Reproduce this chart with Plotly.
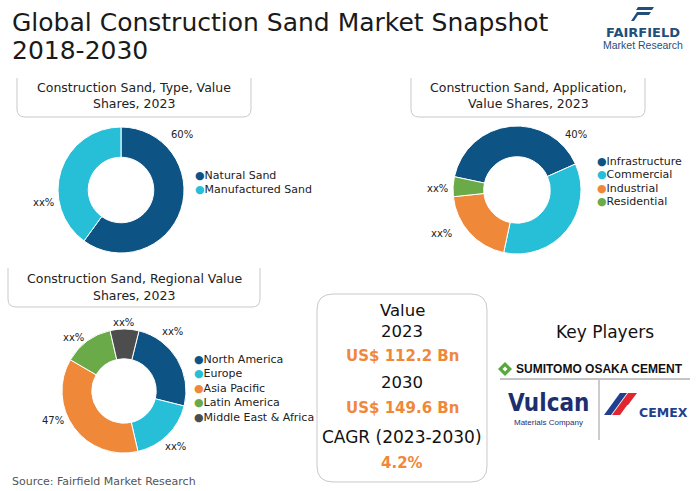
import plotly.graph_objects as go

W, H = 700, 491

# ---------------- data ----------------
type_labels = ["Natural Sand", "Manufactured Sand"]
type_values = [60, 40]
type_text = ["60%", "xx%"]

app_labels = ["Infrastructure", "Commercial", "Industrial", "Residential"]
app_values = [40, 35, 20, 5]
app_text = ["40%", "xx%", "xx%"]

reg_labels = ["North America", "Europe", "Asia Pacific", "Latin America", "Middle East & Africa"]
reg_values = [25, 17.5, 37, 13, 7.5]
reg_text = ["xx%", "xx%", "xx%", "xx%", "47%"]

value_lines = ["Value", "2023", "US$ 112.2 Bn", "2030", "US$ 149.6 Bn", "CAGR (2023-2030)", "4.2%"]

DARK = "#0d5484"
CYAN = "#27bfd8"
ORANGE = "#f0883a"
GREEN = "#6aaa48"
GRAY = "#4d4d4d"
BOX = "#c9c9c9"
FONT = "DejaVu Sans"

type_colors = [DARK, CYAN]
app_colors = [DARK, CYAN, ORANGE, GREEN]
reg_colors = [DARK, CYAN, ORANGE, GREEN, GRAY]


def px(x):
    return x / W


def py(y):
    return 1 - y / H


def dom(cx, cy, r):
    return dict(x=[px(cx - r), px(cx + r)], y=[py(cy + r), py(cy - r)])


fig = go.Figure()


def add_pie(labels, values, colors, rotation, cx, cy, r):
    fig.add_trace(go.Pie(
        labels=labels, values=values, hole=0.52, sort=False,
        direction="clockwise", rotation=rotation,
        marker=dict(colors=colors, line=dict(color="white", width=1)),
        textinfo="none", hoverinfo="label+percent", showlegend=False,
        domain=dom(cx, cy, r),
    ))


add_pie(type_labels, type_values, type_colors, 0, 121, 190, 63)
add_pie(app_labels, app_values, app_colors, -78, 517, 190, 64)
add_pie(reg_labels, reg_values, reg_colors, 14, 124, 391, 62)

ann = []


def text(x, y, s, size=11, color="#222", bold=False, xanchor="center", family=FONT):
    if bold:
        s = "<b>" + s + "</b>"
    ann.append(dict(x=px(x), y=py(y), xref="paper", yref="paper", text=s, showarrow=False,
                    xanchor=xanchor, yanchor="middle",
                    font=dict(size=size, color=color, family=family)))


# Titles
text(10, 22, "Global Construction Sand Market Snapshot", size=25, color="#1a1a1a", xanchor="left")
text(10, 51, "2018-2030", size=25, color="#1a1a1a", xanchor="left")

# Fairfield logo text
text(643, 33, "FAIRFIELD", size=13, color="#1f4f7a", bold=True, family="DejaVu Sans")
text(643, 45, "Market Research", size=10.5, color="#1f4f7a", family="Liberation Sans")

# box titles
text(134, 88, "Construction Sand, Type, Value", size=12.5)
text(134, 103, "Shares, 2023", size=12.5)
text(528, 88, "Construction Sand, Application,", size=12.5)
text(528, 103, "Value Shares, 2023", size=12.5)
text(134, 278, "Construction Sand, Regional Value", size=12.5)
text(134, 295, "Shares, 2023", size=12.5)

# slice labels
for (x, y), s in zip([(182, 134), (43, 202)], type_text):
    text(x, y, s, size=10)
for (x, y), s in zip([(576, 134), (437, 188), (441, 233)], app_text):
    text(x, y, s, size=10)
for (x, y), s in zip([(123, 322), (172, 331), (73, 337), (175, 446), (53, 420)], reg_text):
    text(x, y, s, size=10)


# legends
def legend(x, y0, dy, labels, colors):
    for i, (lab, col) in enumerate(zip(labels, colors)):
        y = y0 + i * dy
        ann.append(dict(x=px(x), y=py(y), xref="paper", yref="paper", showarrow=False,
                        xanchor="left", yanchor="middle",
                        text="<span style='color:%s'>●</span>%s" % (col, lab),
                        font=dict(size=11, color="#222", family=FONT)))


legend(193, 175, 14, type_labels, type_colors)
legend(595, 161, 13.5, app_labels, app_colors)
legend(192, 359, 14.5, reg_labels, reg_colors)

# value box
vy = [310, 331, 356, 382, 408, 437, 463]
for s, y in zip(value_lines, vy):
    if s.startswith("US$") or s.endswith("%"):
        text(402, y, s, size=15, color=ORANGE, bold=True)
    elif s.startswith("CAGR"):
        text(402, y, s, size=17, color="#111")
    else:
        text(402, y, s, size=16.5, color="#111")

text(605, 332, "Key Players", size=17, color="#111")

# Key player logos
text(599, 369, "SUMITOMO OSAKA CEMENT", size=12, color="#111", bold=True, family="Liberation Sans")
text(548, 403, "Vulcan", size=24, color="#1d2f6f", bold=True, family="DejaVu Sans Condensed")
text(548, 422, "Materials Company", size=8, color="#1d2f6f", family="Liberation Sans")
text(663, 412, "CEMEX", size=12.5, color="#1f3f8f", bold=True, family="DejaVu Sans")

text(10, 481, "Source: Fairfield Market Research", size=11, color="#555", xanchor="left")

# ---------------- shapes ----------------
shapes = []


def P(x, y):
    return "%.5f,%.5f" % (px(x), py(y))


def open_box(x0, x1, y0, y1, r=8):
    d = ("M " + P(x0, y0) + " L " + P(x0, y1 - r) + " Q " + P(x0, y1) + " " + P(x0 + r, y1) +
         " L " + P(x1 - r, y1) + " Q " + P(x1, y1) + " " + P(x1, y1 - r) + " L " + P(x1, y0))
    shapes.append(dict(type="path", xref="paper", yref="paper", path=d,
                       line=dict(color=BOX, width=1)))


def round_box(x0, x1, y0, y1, r=16):
    d = ("M " + P(x0 + r, y0) + " L " + P(x1 - r, y0) + " Q " + P(x1, y0) + " " + P(x1, y0 + r) +
         " L " + P(x1, y1 - r) + " Q " + P(x1, y1) + " " + P(x1 - r, y1) +
         " L " + P(x0 + r, y1) + " Q " + P(x0, y1) + " " + P(x0, y1 - r) +
         " L " + P(x0, y0 + r) + " Q " + P(x0, y0) + " " + P(x0 + r, y0) + " Z")
    shapes.append(dict(type="path", xref="paper", yref="paper", path=d,
                       line=dict(color=BOX, width=1)))


def poly(pts, color):
    d = "M " + " L ".join(P(x, y) for x, y in pts) + " Z"
    shapes.append(dict(type="path", xref="paper", yref="paper", path=d,
                       fillcolor=color, line=dict(width=0)))


def line(x0, y0, x1, y1, color="#aaa", width=1.2):
    shapes.append(dict(type="line", xref="paper", yref="paper", x0=px(x0), y0=py(y0),
                       x1=px(x1), y1=py(y1), line=dict(color=color, width=width)))


open_box(17, 251, 78, 117)
open_box(411, 645, 78, 117)
open_box(8, 260, 268, 307)
round_box(317, 487, 294, 482)

# fairfield icon
poly([(638, 7), (654, 7), (652, 10), (636, 10)], "#1f4f7a")
poly([(637, 12), (651, 12), (649, 15), (638, 15), (634, 21), (631, 21)], "#1f4f7a")

# sumitomo icon
poly([(505, 362), (512, 369), (505, 376), (498, 369)], "#5aa83c")
poly([(505, 366.5), (507.5, 369), (505, 371.5), (502.5, 369)], "white")
line(500, 379, 690, 379, "#b0b0b0", 1.5)
line(599, 380, 599, 440, "#9a9a9a", 1)

# cemex stripes
poly([(604, 415), (611, 415), (627, 393), (620, 393)], "#1f3f8f")
poly([(612, 415), (620, 415), (636, 393), (628, 393)], "#e2262f")
poly([(621, 405), (628, 405), (637, 393), (630, 393)], "#e2262f")

fig.update_layout(width=W, height=H, margin=dict(l=0, r=0, t=0, b=0),
                  paper_bgcolor="white", plot_bgcolor="white",
                  annotations=ann, shapes=shapes, showlegend=False)
fig.write_html("out.html", config={"displayModeBar": False},
               post_script="document.body.style.margin='0px';document.body.style.padding='0px';")
